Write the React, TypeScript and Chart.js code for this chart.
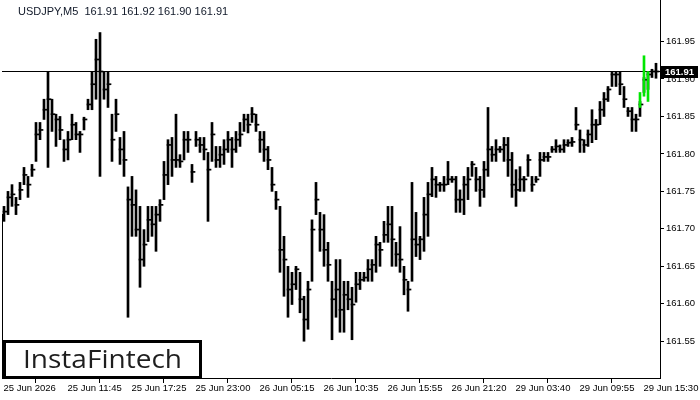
import React, { useEffect, useRef } from "react";
import { Chart, registerables } from "chart.js";

Chart.register(...registerables);

const symbolTitle = "USDJPY,M5  161.91 161.92 161.90 161.91";
const currentPrice = 161.91;
const timeLabels = [
  "25 Jun 2026", "25 Jun 11:45", "25 Jun 17:25", "25 Jun 23:00", "26 Jun 05:15",
  "26 Jun 10:35", "26 Jun 15:55", "26 Jun 21:20", "29 Jun 03:40", "29 Jun 09:55", "29 Jun 15:30",
];
const barsPerLabel = 16;
const yTickValues = [161.55, 161.6, 161.65, 161.7, 161.75, 161.8, 161.85, 161.9, 161.95];

const highs = [
  161.730, 161.750, 161.759, 161.742, 161.762, 161.782, 161.770, 161.786, 161.842, 161.842,
  161.873, 161.910, 161.873, 161.853, 161.850, 161.819, 161.830, 161.853, 161.842, 161.830,
  161.849, 161.873, 161.910, 161.953, 161.962, 161.910, 161.910, 161.853, 161.873, 161.822,
  161.830, 161.756, 161.770, 161.752, 161.730, 161.699, 161.730, 161.730, 161.730, 161.739,
  161.790, 161.819, 161.822, 161.853, 161.799, 161.830, 161.830, 161.786, 161.830, 161.822,
  161.822, 161.802, 161.842, 161.810, 161.810, 161.819, 161.830, 161.822, 161.830, 161.842,
  161.853, 161.853, 161.862, 161.853, 161.830, 161.830, 161.810, 161.782, 161.750, 161.730,
  161.690, 161.650, 161.642, 161.650, 161.642, 161.610, 161.630, 161.712, 161.762, 161.722,
  161.719, 161.682, 161.630, 161.659, 161.659, 161.630, 161.630, 161.622, 161.642, 161.642,
  161.642, 161.659, 161.659, 161.690, 161.682, 161.710, 161.730, 161.730, 161.682, 161.703,
  161.650, 161.630, 161.762, 161.722, 161.690, 161.742, 161.762, 161.782, 161.770, 161.762,
  161.770, 161.790, 161.770, 161.770, 161.752, 161.770, 161.782, 161.790, 161.782, 161.770,
  161.790, 161.862, 161.810, 161.819, 161.810, 161.822, 161.822, 161.802, 161.779, 161.783,
  161.770, 161.799, 161.770, 161.770, 161.802, 161.802, 161.802, 161.810, 161.819, 161.812,
  161.819, 161.819, 161.822, 161.862, 161.832, 161.819, 161.832, 161.859, 161.846, 161.870,
  161.882, 161.890, 161.910, 161.910, 161.910, 161.890, 161.862, 161.862, 161.853, 161.870,
  161.902, 161.910, 161.913, 161.921,
];

const lows = [
  161.710, 161.719, 161.730, 161.719, 161.739, 161.759, 161.742, 161.770, 161.790, 161.819,
  161.846, 161.782, 161.830, 161.810, 161.819, 161.790, 161.792, 161.819, 161.819, 161.802,
  161.832, 161.859, 161.859, 161.873, 161.770, 161.873, 161.862, 161.790, 161.830, 161.786,
  161.770, 161.582, 161.690, 161.690, 161.622, 161.650, 161.683, 161.690, 161.670, 161.710,
  161.739, 161.759, 161.770, 161.782, 161.782, 161.792, 161.802, 161.762, 161.810, 161.802,
  161.792, 161.710, 161.790, 161.782, 161.782, 161.786, 161.802, 161.782, 161.802, 161.810,
  161.830, 161.828, 161.842, 161.830, 161.802, 161.790, 161.779, 161.750, 161.726, 161.642,
  161.610, 161.582, 161.599, 161.619, 161.588, 161.550, 161.566, 161.630, 161.719, 161.670,
  161.650, 161.630, 161.552, 161.582, 161.562, 161.562, 161.592, 161.552, 161.602, 161.619,
  161.630, 161.630, 161.630, 161.642, 161.650, 161.682, 161.682, 161.650, 161.650, 161.642,
  161.612, 161.590, 161.630, 161.663, 161.659, 161.670, 161.690, 161.743, 161.742, 161.750,
  161.750, 161.759, 161.762, 161.722, 161.722, 161.719, 161.739, 161.770, 161.750, 161.730,
  161.742, 161.770, 161.790, 161.790, 161.802, 161.790, 161.770, 161.742, 161.730, 161.750,
  161.750, 161.770, 161.750, 161.762, 161.770, 161.790, 161.790, 161.802, 161.802, 161.802,
  161.802, 161.810, 161.810, 161.832, 161.802, 161.802, 161.810, 161.815, 161.819, 161.839,
  161.850, 161.870, 161.890, 161.890, 161.879, 161.862, 161.850, 161.830, 161.830, 161.850,
  161.882, 161.886, 161.902, 161.901,
];

const closes = [
  161.723, 161.742, 161.746, 161.732, 161.752, 161.772, 161.759, 161.779, 161.826, 161.832,
  161.859, 161.873, 161.853, 161.846, 161.832, 161.806, 161.819, 161.839, 161.826, 161.826,
  161.846, 161.866, 161.893, 161.926, 161.910, 161.886, 161.893, 161.819, 161.853, 161.806,
  161.792, 161.739, 161.732, 161.699, 161.659, 161.679, 161.712, 161.706, 161.719, 161.732,
  161.772, 161.812, 161.792, 161.792, 161.790, 161.819, 161.819, 161.776, 161.819, 161.812,
  161.806, 161.779, 161.826, 161.792, 161.799, 161.806, 161.819, 161.806, 161.819, 161.826,
  161.846, 161.839, 161.853, 161.839, 161.819, 161.806, 161.792, 161.759, 161.739, 161.672,
  161.659, 161.619, 161.626, 161.646, 161.606, 161.579, 161.619, 161.699, 161.739, 161.699,
  161.672, 161.652, 161.606, 161.619, 161.592, 161.612, 161.606, 161.599, 161.626, 161.632,
  161.635, 161.646, 161.652, 161.679, 161.672, 161.692, 161.706, 161.686, 161.666, 161.659,
  161.632, 161.619, 161.686, 161.679, 161.686, 161.719, 161.746, 161.766, 161.759, 161.759,
  161.759, 161.766, 161.766, 161.739, 161.739, 161.759, 161.766, 161.786, 161.766, 161.752,
  161.779, 161.806, 161.799, 161.806, 161.806, 161.812, 161.792, 161.759, 161.752, 161.766,
  161.766, 161.792, 161.759, 161.766, 161.792, 161.796, 161.796, 161.806, 161.810, 161.806,
  161.812, 161.815, 161.816, 161.839, 161.819, 161.812, 161.826, 161.839, 161.839, 161.859,
  161.873, 161.886, 161.906, 161.906, 161.893, 161.873, 161.857, 161.846, 161.846, 161.866,
  161.899, 161.906, 161.910, 161.910,
];

// highlighted (green) bars at the end of the series
const greenIndex = [159, 160, 161];
const greenHighs = [161.882, 161.931, 161.910];
const greenLows = [161.862, 161.877, 161.870];

const X_MIN = -0.375;
const X_MAX = 164.125;
const Y_MIN = 161.50093;
const Y_MAX = 162.00543;
const TICK_FAMILY = '"Liberation Sans", Arial, sans-serif';
const TICK_SIZE = 9.5;

const overlayPlugin = {
  id: "overlay",
  afterDraw(chart: any) {
    const ctx = chart.ctx;
    const area = chart.chartArea;
    const ys = chart.scales.y;
    ctx.save();
    // title
    ctx.font = '11px ' + TICK_FAMILY;
    ctx.fillStyle = "#101828";
    ctx.textBaseline = "middle";
    ctx.textAlign = "left";
    ctx.fillText(symbolTitle, 18, 12);

    // frame segments
    ctx.strokeStyle = "#000";
    ctx.lineWidth = 1;
    ctx.beginPath();
    ctx.moveTo(area.left + 0.5, ys.getPixelForValue(161.72));
    ctx.lineTo(area.left + 0.5, area.bottom);
    ctx.stroke();
    ctx.beginPath();
    ctx.moveTo(area.right + 0.5, 0);
    ctx.lineTo(area.right + 0.5, area.bottom);
    ctx.stroke();

    // logo box
    ctx.fillStyle = "#fff";
    ctx.fillRect(3, 340, 199, 39);
    ctx.lineWidth = 3;
    ctx.strokeStyle = "#000";
    ctx.strokeRect(4.5, 341.5, 196, 36);
    ctx.fillStyle = "#1e1e1e";
    ctx.font = '500 26px "Open Sans", Lato, sans-serif';
    ctx.textBaseline = "alphabetic";
    const logo = "InstaFintech";
    const w = ctx.measureText(logo).width;
    ctx.save();
    ctx.translate(23, 368);
    ctx.scale(159 / w, 1);
    ctx.fillText(logo, 0, 0);
    ctx.restore();

    // current price label
    const py = Math.round(ys.getPixelForValue(currentPrice));
    ctx.fillStyle = "#000";
    ctx.fillRect(area.right + 1, py - 6, 37, 12);
    ctx.fillStyle = "#fff";
    ctx.font = 'bold ' + TICK_SIZE + 'px ' + TICK_FAMILY;
    ctx.textBaseline = "middle";
    ctx.fillText(currentPrice.toFixed(2), area.right + 5, py + 0.5);
    ctx.restore();
  },
};

export default function App() {
  const ref = useRef<HTMLCanvasElement | null>(null);

  useEffect(() => {
    if (!ref.current) return;
    const rangeData = highs.map((h, i) => ({ x: i + 0.125, y: [lows[i], h] }));
    const closeData = closes.map((c, i) => ({ x: i + 0.375, y: [c - 0.0007, c + 0.0007] }));
    const greenData = greenIndex.map((idx, k) => ({ x: idx + 0.125, y: [greenLows[k], greenHighs[k]] }));

    const chart = new Chart(ref.current, {
      type: "bar",
      data: {
        datasets: [
          {
            type: "bar",
            data: greenData as any,
            backgroundColor: "#00e600",
            barThickness: 2,
            grouped: false,
            order: 0,
          } as any,
          {
            type: "bar",
            data: rangeData as any,
            backgroundColor: "#000",
            barThickness: 2,
            grouped: false,
            order: 1,
          } as any,
          {
            type: "bar",
            data: closeData as any,
            backgroundColor: "#000",
            barThickness: 4,
            grouped: false,
            order: 1,
          } as any,
          {
            type: "line",
            data: [
              { x: X_MIN, y: currentPrice },
              { x: X_MAX, y: currentPrice },
            ],
            borderColor: "#000",
            borderWidth: 1,
            pointRadius: 0,
            order: 2,
          } as any,
        ],
      },
      options: {
        responsive: false,
        maintainAspectRatio: false,
        animation: false,
        devicePixelRatio: 1,
        layout: { padding: { left: 2, top: 0, right: 0, bottom: 0 } },
        plugins: { legend: { display: false }, tooltip: { enabled: false } },
        scales: {
          x: {
            type: "linear",
            min: X_MIN,
            max: X_MAX,
            offset: false,
            border: { display: true, color: "#000", width: 1 },
            grid: { drawOnChartArea: false, drawTicks: true, tickLength: 5, color: "#000" },
            afterBuildTicks: (scale: any) => {
              scale.ticks = timeLabels.map((_, k) => ({ value: k * barsPerLabel }));
            },
            afterFit: (scale: any) => {
              scale.height = 22;
              scale.paddingLeft = 0;
              scale.paddingRight = 0;
            },
            ticks: {
              autoSkip: false,
              maxRotation: 0,
              minRotation: 0,
              align: "start",
              padding: 0,
              color: "#000",
              font: { family: TICK_FAMILY, size: TICK_SIZE },
              callback: (v: any) => timeLabels[Math.round(Number(v) / barsPerLabel)] ?? "",
            },
          },
          y: {
            type: "linear",
            position: "right",
            min: Y_MIN,
            max: Y_MAX,
            border: { display: true, color: "#000", width: 1 },
            grid: { drawOnChartArea: false, drawTicks: true, tickLength: 4, color: "#000" },
            afterBuildTicks: (scale: any) => {
              scale.ticks = yTickValues.map((v) => ({ value: v }));
            },
            afterFit: (scale: any) => {
              scale.width = 40;
              scale.paddingTop = 0;
              scale.paddingBottom = 0;
            },
            ticks: {
              padding: 2,
              color: "#000",
              font: { family: TICK_FAMILY, size: TICK_SIZE },
              callback: (v: any) => Number(v).toFixed(2),
            },
          },
        },
      },
      plugins: [overlayPlugin],
    });
    return () => chart.destroy();
  }, []);

  return (
    <div style={{ position: "fixed", left: 0, top: 0, width: 700, height: 400, background: "#fff" }}>
      <canvas ref={ref} width={700} height={400} style={{ display: "block", width: 700, height: 400 }} />
    </div>
  );
}
